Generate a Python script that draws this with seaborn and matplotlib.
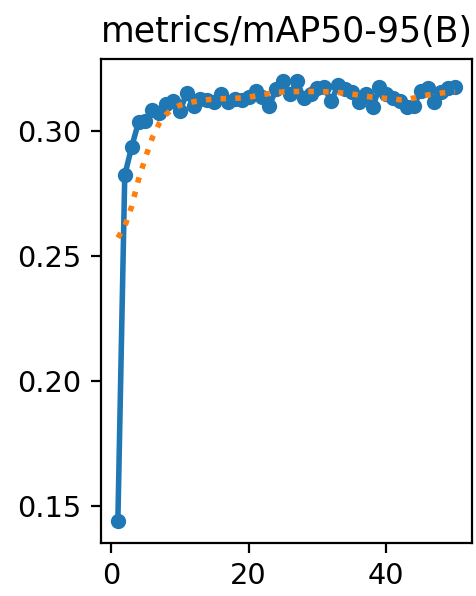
import numpy as np
import pandas as pd
import matplotlib
matplotlib.use("Agg")
import matplotlib.pyplot as plt
import seaborn as sns

# epochs and metric values
epochs = list(range(1, 51))
map50_95 = [0.1443, 0.2825, 0.2938, 0.3037, 0.3041, 0.3086, 0.3073, 0.3110, 0.3123, 0.3081,
            0.3154, 0.3101, 0.3130, 0.3126, 0.3117, 0.3150, 0.3117, 0.3130, 0.3126, 0.3136,
            0.3163, 0.3136, 0.3103, 0.3170, 0.3202, 0.3150, 0.3200, 0.3134, 0.3150, 0.3174,
            0.3176, 0.3120, 0.3187, 0.3170, 0.3156, 0.3117, 0.3150, 0.3097, 0.3176, 0.3150,
            0.3134, 0.3120, 0.3097, 0.3103, 0.3163, 0.3174, 0.3117, 0.3156, 0.3174, 0.3176]
smooth = [0.2575, 0.2620, 0.2700, 0.2808, 0.2895, 0.2975, 0.3032, 0.3068, 0.3092, 0.3105,
          0.3113, 0.3119, 0.3123, 0.3127, 0.3130, 0.3131, 0.3132, 0.3133, 0.3134, 0.3137,
          0.3142, 0.3147, 0.3152, 0.3156, 0.3158, 0.3160, 0.3160, 0.3160, 0.3160, 0.3160,
          0.3159, 0.3158, 0.3156, 0.3153, 0.3150, 0.3146, 0.3141, 0.3137, 0.3135, 0.3132,
          0.3130, 0.3127, 0.3128, 0.3134, 0.3140, 0.3146, 0.3150, 0.3154, 0.3157, 0.3158]
title = "metrics/mAP50-95(B)"

df = pd.DataFrame({"epoch": epochs, "value": map50_95, "smooth": smooth})

fig = plt.figure(figsize=(2.38, 2.98), dpi=200)
ax = fig.add_axes([0.2122, 0.0894, 0.7794, 0.8116])

blue = "#1f77b4"
sns.lineplot(data=df, x="epoch", y="value", ax=ax, color=blue, marker=".",
             markersize=9, linewidth=2, markeredgecolor=blue, markeredgewidth=1)
sns.lineplot(data=df, x="epoch", y="smooth", ax=ax, color="#ff7f0e",
             linestyle=":", linewidth=2)

ax.set_title(title, fontsize=12.5)
ax.set_xlabel("")
ax.set_ylabel("")
ax.set_xticks([0, 20, 40])
ax.set_yticks([0.15, 0.20, 0.25, 0.30])
ax.tick_params(labelsize=10.4)

fig.savefig("out.png", dpi=200)
